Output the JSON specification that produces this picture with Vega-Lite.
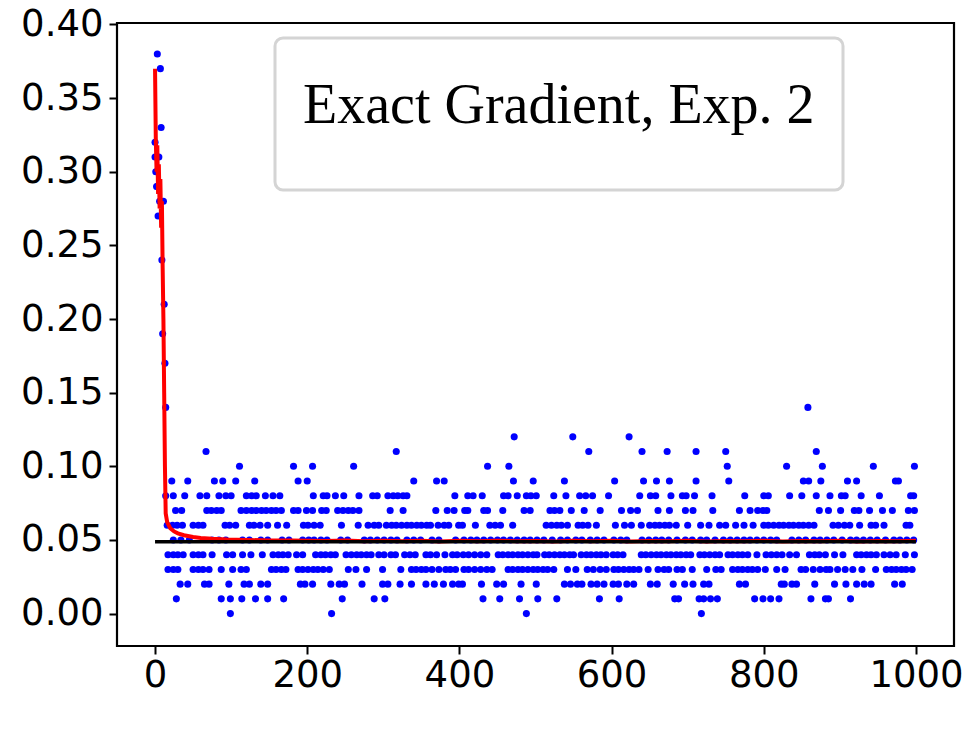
{
 "$schema": "https://vega.github.io/schema/vega-lite/v6.json",
 "width": 837, "height": 623,
 "autosize": {"type": "none"},
 "padding": {"left": 117, "top": 23, "right": 16, "bottom": 88},
 "background": "white",
 "config": {
  "view": {"stroke": "black", "strokeWidth": 2.2},
  "axis": {"grid": false, "domain": false, "ticks": true, "tickColor": "black", "tickWidth": 2, "tickSize": 8, "labelFont": "DejaVu Sans", "labelFontSize": 37, "labelColor": "black", "title": null}
 },
 "datasets": {
  "points": [
   {"x":0,"y":0.32},{"x":0,"y":0.31},{"x":1,"y":0.30},{"x":2,"y":0.29},{"x":3,"y":0.38},{"x":3,"y":0.29},{"x":4,"y":0.27},{"x":5,"y":0.31},{"x":6,"y":0.28},{"x":7,"y":0.37},{"x":8,"y":0.33},{"x":9,"y":0.24},{"x":10,"y":0.19},{"x":11,"y":0.28},{"x":12,"y":0.21},{"x":13,"y":0.17},{"x":14,"y":0.14},
   {"x":67,"y":0.11},
   {"x":111,"y":0.10},{"x":182,"y":0.10},
   {"x":22,"y":0.09},{"x":43,"y":0.09},{"x":78,"y":0.09},{"x":89,"y":0.09},{"x":106,"y":0.09},{"x":131,"y":0.09},{"x":188,"y":0.09},{"x":200,"y":0.09},
   {"x":14,"y":0.08},{"x":24,"y":0.08},{"x":39,"y":0.08},{"x":59,"y":0.08},{"x":68,"y":0.08},{"x":84,"y":0.08},{"x":93,"y":0.08},{"x":100,"y":0.08},{"x":120,"y":0.08},{"x":127,"y":0.08},{"x":133,"y":0.08},{"x":145,"y":0.08},{"x":155,"y":0.08},{"x":164,"y":0.08},
   {"x":27,"y":0.07},{"x":35,"y":0.07},{"x":68,"y":0.07},{"x":74,"y":0.07},{"x":81,"y":0.07},{"x":87,"y":0.07},{"x":113,"y":0.07},{"x":120,"y":0.07},{"x":127,"y":0.07},{"x":133,"y":0.07},{"x":140,"y":0.07},{"x":146,"y":0.07},{"x":153,"y":0.07},{"x":159,"y":0.07},{"x":166,"y":0.07},{"x":182,"y":0.07},{"x":188,"y":0.07},{"x":199,"y":0.07},
   {"x":16,"y":0.06},{"x":23,"y":0.06},{"x":29,"y":0.06},{"x":36,"y":0.06},{"x":50,"y":0.06},{"x":57,"y":0.06},{"x":63,"y":0.06},{"x":92,"y":0.06},{"x":98,"y":0.06},{"x":106,"y":0.06},{"x":124,"y":0.06},{"x":130,"y":0.06},{"x":138,"y":0.06},{"x":148,"y":0.06},{"x":161,"y":0.06},{"x":173,"y":0.06},{"x":195,"y":0.06},{"x":201,"y":0.06},
   {"x":24,"y":0.05},{"x":34,"y":0.05},{"x":45,"y":0.05},{"x":75,"y":0.05},{"x":84,"y":0.05},{"x":93,"y":0.05},{"x":115,"y":0.05},{"x":124,"y":0.05},{"x":139,"y":0.05},{"x":148,"y":0.05},{"x":167,"y":0.05},{"x":176,"y":0.05},{"x":194,"y":0.05},{"x":202,"y":0.05},
   {"x":17,"y":0.04},{"x":24,"y":0.04},{"x":30,"y":0.04},{"x":37,"y":0.04},{"x":50,"y":0.04},{"x":57,"y":0.04},{"x":63,"y":0.04},{"x":75,"y":0.04},{"x":94,"y":0.04},{"x":102,"y":0.04},{"x":115,"y":0.04},{"x":126,"y":0.04},{"x":141,"y":0.04},{"x":155,"y":0.04},{"x":162,"y":0.04},{"x":168,"y":0.04},{"x":175,"y":0.04},{"x":186,"y":0.04},{"x":194,"y":0.04},
   {"x":17,"y":0.03},{"x":24,"y":0.03},{"x":30,"y":0.03},{"x":50,"y":0.03},{"x":57,"y":0.03},{"x":63,"y":0.03},{"x":71,"y":0.03},{"x":87,"y":0.03},{"x":102,"y":0.03},{"x":113,"y":0.03},{"x":120,"y":0.03},{"x":153,"y":0.03},{"x":159,"y":0.03},{"x":166,"y":0.03},{"x":172,"y":0.03},{"x":188,"y":0.03},{"x":194,"y":0.03},{"x":201,"y":0.03},
   {"x":33,"y":0.02},{"x":43,"y":0.02},{"x":65,"y":0.02},{"x":71,"y":0.02},{"x":97,"y":0.02},{"x":117,"y":0.02},{"x":124,"y":0.02},{"x":139,"y":0.02},{"x":148,"y":0.02},{"x":191,"y":0.02},{"x":197,"y":0.02},
   {"x":28,"y":0.01},{"x":87,"y":0.01},{"x":99,"y":0.01},{"x":114,"y":0.01},{"x":132,"y":0.01},{"x":148,"y":0.01},{"x":169,"y":0.01},
   {"x":99,"y":0.0},
   {"x":317,"y":0.11},
   {"x":207,"y":0.10},{"x":261,"y":0.10},
   {"x":340,"y":0.09},{"x":370,"y":0.09},{"x":380,"y":0.09},
   {"x":208,"y":0.08},{"x":221,"y":0.08},{"x":226,"y":0.08},{"x":237,"y":0.08},{"x":248,"y":0.08},{"x":268,"y":0.08},{"x":286,"y":0.08},{"x":292,"y":0.08},{"x":306,"y":0.08},{"x":313,"y":0.08},{"x":319,"y":0.08},{"x":326,"y":0.08},{"x":331,"y":0.08},{"x":394,"y":0.08},
   {"x":207,"y":0.07},{"x":219,"y":0.07},{"x":225,"y":0.07},{"x":240,"y":0.07},{"x":247,"y":0.07},{"x":254,"y":0.07},{"x":260,"y":0.07},{"x":268,"y":0.07},{"x":309,"y":0.07},{"x":326,"y":0.07},{"x":369,"y":0.07},{"x":384,"y":0.07},{"x":393,"y":0.07},
   {"x":209,"y":0.06},{"x":217,"y":0.06},{"x":245,"y":0.06},{"x":267,"y":0.06},{"x":280,"y":0.06},{"x":288,"y":0.06},{"x":294,"y":0.06},{"x":304,"y":0.06},{"x":311,"y":0.06},{"x":317,"y":0.06},{"x":324,"y":0.06},{"x":331,"y":0.06},{"x":337,"y":0.06},{"x":344,"y":0.06},{"x":350,"y":0.06},{"x":357,"y":0.06},{"x":362,"y":0.06},{"x":372,"y":0.06},{"x":380,"y":0.06},{"x":386,"y":0.06},{"x":399,"y":0.06},
   {"x":209,"y":0.05},{"x":218,"y":0.05},{"x":226,"y":0.05},{"x":244,"y":0.05},{"x":253,"y":0.05},{"x":275,"y":0.05},{"x":283,"y":0.05},{"x":292,"y":0.05},{"x":301,"y":0.05},{"x":310,"y":0.05},{"x":318,"y":0.05},{"x":331,"y":0.05},{"x":340,"y":0.05},{"x":349,"y":0.05},{"x":364,"y":0.05},{"x":373,"y":0.05},{"x":395,"y":0.05},
   {"x":211,"y":0.04},{"x":218,"y":0.04},{"x":224,"y":0.04},{"x":231,"y":0.04},{"x":237,"y":0.04},{"x":251,"y":0.04},{"x":258,"y":0.04},{"x":265,"y":0.04},{"x":271,"y":0.04},{"x":278,"y":0.04},{"x":284,"y":0.04},{"x":294,"y":0.04},{"x":301,"y":0.04},{"x":310,"y":0.04},{"x":316,"y":0.04},{"x":328,"y":0.04},{"x":335,"y":0.04},{"x":342,"y":0.04},{"x":356,"y":0.04},{"x":362,"y":0.04},{"x":370,"y":0.04},{"x":381,"y":0.04},{"x":391,"y":0.04},{"x":397,"y":0.04},
   {"x":208,"y":0.03},{"x":214,"y":0.03},{"x":221,"y":0.03},{"x":229,"y":0.03},{"x":254,"y":0.03},{"x":264,"y":0.03},{"x":278,"y":0.03},{"x":299,"y":0.03},{"x":323,"y":0.03},{"x":337,"y":0.03},{"x":343,"y":0.03},{"x":350,"y":0.03},{"x":356,"y":0.03},{"x":364,"y":0.03},{"x":373,"y":0.03},{"x":382,"y":0.03},{"x":388,"y":0.03},{"x":395,"y":0.03},
   {"x":207,"y":0.02},{"x":231,"y":0.02},{"x":242,"y":0.02},{"x":249,"y":0.02},{"x":272,"y":0.02},{"x":299,"y":0.02},{"x":306,"y":0.02},{"x":322,"y":0.02},{"x":337,"y":0.02},{"x":356,"y":0.02},{"x":367,"y":0.02},{"x":379,"y":0.02},{"x":391,"y":0.02},{"x":399,"y":0.02},
   {"x":246,"y":0.01},{"x":288,"y":0.01},{"x":302,"y":0.01},
   {"x":232,"y":0.0},
   {"x":472,"y":0.12},{"x":549,"y":0.12},
   {"x":570,"y":0.11},
   {"x":437,"y":0.10},{"x":465,"y":0.10},
   {"x":471,"y":0.09},{"x":497,"y":0.09},{"x":538,"y":0.09},
   {"x":411,"y":0.08},{"x":418,"y":0.08},{"x":430,"y":0.08},{"x":458,"y":0.08},{"x":464,"y":0.08},{"x":476,"y":0.08},{"x":488,"y":0.08},{"x":494,"y":0.08},{"x":501,"y":0.08},{"x":524,"y":0.08},{"x":540,"y":0.08},{"x":558,"y":0.08},{"x":566,"y":0.08},{"x":575,"y":0.08},{"x":596,"y":0.08},
   {"x":407,"y":0.07},{"x":411,"y":0.07},{"x":432,"y":0.07},{"x":437,"y":0.07},{"x":457,"y":0.07},{"x":485,"y":0.07},{"x":493,"y":0.07},{"x":519,"y":0.07},{"x":525,"y":0.07},{"x":532,"y":0.07},{"x":547,"y":0.07},{"x":564,"y":0.07},{"x":585,"y":0.07},
   {"x":404,"y":0.06},{"x":421,"y":0.06},{"x":440,"y":0.06},{"x":447,"y":0.06},{"x":454,"y":0.06},{"x":470,"y":0.06},{"x":514,"y":0.06},{"x":521,"y":0.06},{"x":528,"y":0.06},{"x":534,"y":0.06},{"x":542,"y":0.06},{"x":556,"y":0.06},{"x":562,"y":0.06},{"x":569,"y":0.06},{"x":580,"y":0.06},
   {"x":406,"y":0.05},{"x":415,"y":0.05},{"x":423,"y":0.05},{"x":432,"y":0.05},{"x":441,"y":0.05},{"x":450,"y":0.05},{"x":458,"y":0.05},{"x":467,"y":0.05},{"x":476,"y":0.05},{"x":485,"y":0.05},{"x":493,"y":0.05},{"x":502,"y":0.05},{"x":511,"y":0.05},{"x":522,"y":0.05},{"x":533,"y":0.05},{"x":542,"y":0.05},{"x":553,"y":0.05},{"x":561,"y":0.05},{"x":572,"y":0.05},{"x":581,"y":0.05},{"x":590,"y":0.05},
   {"x":405,"y":0.04},{"x":412,"y":0.04},{"x":420,"y":0.04},{"x":428,"y":0.04},{"x":436,"y":0.04},{"x":451,"y":0.04},{"x":457,"y":0.04},{"x":464,"y":0.04},{"x":470,"y":0.04},{"x":477,"y":0.04},{"x":483,"y":0.04},{"x":490,"y":0.04},{"x":497,"y":0.04},{"x":502,"y":0.04},{"x":512,"y":0.04},{"x":518,"y":0.04},{"x":525,"y":0.04},{"x":532,"y":0.04},{"x":538,"y":0.04},{"x":545,"y":0.04},{"x":550,"y":0.04},{"x":560,"y":0.04},{"x":567,"y":0.04},{"x":573,"y":0.04},{"x":580,"y":0.04},{"x":586,"y":0.04},{"x":593,"y":0.04},
   {"x":406,"y":0.03},{"x":412,"y":0.03},{"x":420,"y":0.03},{"x":428,"y":0.03},{"x":436,"y":0.03},{"x":443,"y":0.03},{"x":464,"y":0.03},{"x":470,"y":0.03},{"x":477,"y":0.03},{"x":483,"y":0.03},{"x":490,"y":0.03},{"x":497,"y":0.03},{"x":503,"y":0.03},{"x":510,"y":0.03},{"x":516,"y":0.03},{"x":524,"y":0.03},{"x":542,"y":0.03},{"x":553,"y":0.03},{"x":568,"y":0.03},{"x":576,"y":0.03},{"x":585,"y":0.03},{"x":593,"y":0.03},
   {"x":404,"y":0.02},{"x":429,"y":0.02},{"x":449,"y":0.02},{"x":458,"y":0.02},{"x":481,"y":0.02},{"x":501,"y":0.02},{"x":538,"y":0.02},{"x":546,"y":0.02},{"x":555,"y":0.02},{"x":561,"y":0.02},{"x":573,"y":0.02},{"x":581,"y":0.02},{"x":590,"y":0.02},
   {"x":431,"y":0.01},{"x":453,"y":0.01},{"x":479,"y":0.01},{"x":503,"y":0.01},{"x":528,"y":0.01},{"x":584,"y":0.01},
   {"x":488,"y":0.0},
   {"x":623,"y":0.12},
   {"x":640,"y":0.11},{"x":673,"y":0.11},{"x":711,"y":0.11},{"x":750,"y":0.11},
   {"x":752,"y":0.10},
   {"x":604,"y":0.09},{"x":642,"y":0.09},{"x":659,"y":0.09},{"x":676,"y":0.09},{"x":711,"y":0.09},{"x":754,"y":0.09},
   {"x":637,"y":0.08},{"x":651,"y":0.08},{"x":658,"y":0.08},{"x":678,"y":0.08},{"x":693,"y":0.08},{"x":698,"y":0.08},{"x":709,"y":0.08},{"x":732,"y":0.08},{"x":775,"y":0.08},
   {"x":613,"y":0.07},{"x":625,"y":0.07},{"x":634,"y":0.07},{"x":661,"y":0.07},{"x":676,"y":0.07},{"x":697,"y":0.07},{"x":707,"y":0.07},{"x":733,"y":0.07},{"x":768,"y":0.07},{"x":782,"y":0.07},{"x":792,"y":0.07},
   {"x":605,"y":0.06},{"x":617,"y":0.06},{"x":626,"y":0.06},{"x":639,"y":0.06},{"x":650,"y":0.06},{"x":657,"y":0.06},{"x":663,"y":0.06},{"x":670,"y":0.06},{"x":676,"y":0.06},{"x":685,"y":0.06},{"x":700,"y":0.06},{"x":717,"y":0.06},{"x":728,"y":0.06},{"x":742,"y":0.06},{"x":750,"y":0.06},{"x":763,"y":0.06},{"x":774,"y":0.06},{"x":786,"y":0.06},
   {"x":603,"y":0.05},{"x":612,"y":0.05},{"x":620,"y":0.05},{"x":640,"y":0.05},{"x":649,"y":0.05},{"x":658,"y":0.05},{"x":666,"y":0.05},{"x":675,"y":0.05},{"x":686,"y":0.05},{"x":697,"y":0.05},{"x":706,"y":0.05},{"x":717,"y":0.05},{"x":725,"y":0.05},{"x":736,"y":0.05},{"x":747,"y":0.05},{"x":756,"y":0.05},{"x":765,"y":0.05},{"x":774,"y":0.05},{"x":782,"y":0.05},{"x":791,"y":0.05},
   {"x":602,"y":0.04},{"x":608,"y":0.04},{"x":615,"y":0.04},{"x":639,"y":0.04},{"x":645,"y":0.04},{"x":652,"y":0.04},{"x":659,"y":0.04},{"x":665,"y":0.04},{"x":672,"y":0.04},{"x":678,"y":0.04},{"x":685,"y":0.04},{"x":691,"y":0.04},{"x":698,"y":0.04},{"x":704,"y":0.04},{"x":716,"y":0.04},{"x":722,"y":0.04},{"x":729,"y":0.04},{"x":736,"y":0.04},{"x":742,"y":0.04},{"x":753,"y":0.04},{"x":759,"y":0.04},{"x":766,"y":0.04},{"x":772,"y":0.04},{"x":779,"y":0.04},{"x":791,"y":0.04},
   {"x":603,"y":0.03},{"x":609,"y":0.03},{"x":616,"y":0.03},{"x":623,"y":0.03},{"x":629,"y":0.03},{"x":636,"y":0.03},{"x":648,"y":0.03},{"x":661,"y":0.03},{"x":669,"y":0.03},{"x":675,"y":0.03},{"x":686,"y":0.03},{"x":693,"y":0.03},{"x":706,"y":0.03},{"x":725,"y":0.03},{"x":737,"y":0.03},{"x":744,"y":0.03},{"x":759,"y":0.03},{"x":766,"y":0.03},{"x":772,"y":0.03},{"x":779,"y":0.03},{"x":785,"y":0.03},{"x":792,"y":0.03},
   {"x":602,"y":0.02},{"x":609,"y":0.02},{"x":620,"y":0.02},{"x":629,"y":0.02},{"x":651,"y":0.02},{"x":660,"y":0.02},{"x":681,"y":0.02},{"x":696,"y":0.02},{"x":707,"y":0.02},{"x":721,"y":0.02},{"x":728,"y":0.02},{"x":768,"y":0.02},{"x":776,"y":0.02},
   {"x":610,"y":0.01},{"x":683,"y":0.01},{"x":688,"y":0.01},{"x":715,"y":0.01},{"x":721,"y":0.01},{"x":730,"y":0.01},{"x":739,"y":0.01},{"x":788,"y":0.01},
   {"x":718,"y":0.0},
   {"x":858,"y":0.14},
   {"x":869,"y":0.11},
   {"x":830,"y":0.10},{"x":877,"y":0.10},{"x":944,"y":0.10},{"x":998,"y":0.10},
   {"x":852,"y":0.09},{"x":859,"y":0.09},{"x":875,"y":0.09},{"x":910,"y":0.09},{"x":922,"y":0.09},{"x":973,"y":0.09},{"x":977,"y":0.09},
   {"x":800,"y":0.08},{"x":806,"y":0.08},{"x":834,"y":0.08},{"x":850,"y":0.08},{"x":869,"y":0.08},{"x":887,"y":0.08},{"x":902,"y":0.08},{"x":907,"y":0.08},{"x":928,"y":0.08},{"x":952,"y":0.08},{"x":993,"y":0.08},{"x":997,"y":0.08},
   {"x":799,"y":0.07},{"x":804,"y":0.07},{"x":873,"y":0.07},{"x":885,"y":0.07},{"x":901,"y":0.07},{"x":919,"y":0.07},{"x":925,"y":0.07},{"x":939,"y":0.07},{"x":956,"y":0.07},{"x":969,"y":0.07},{"x":990,"y":0.07},{"x":998,"y":0.07},
   {"x":800,"y":0.06},{"x":806,"y":0.06},{"x":813,"y":0.06},{"x":820,"y":0.06},{"x":826,"y":0.06},{"x":833,"y":0.06},{"x":839,"y":0.06},{"x":846,"y":0.06},{"x":852,"y":0.06},{"x":859,"y":0.06},{"x":866,"y":0.06},{"x":891,"y":0.06},{"x":898,"y":0.06},{"x":906,"y":0.06},{"x":913,"y":0.06},{"x":926,"y":0.06},{"x":941,"y":0.06},{"x":947,"y":0.06},{"x":958,"y":0.06},{"x":987,"y":0.06},{"x":992,"y":0.06},
   {"x":800,"y":0.05},{"x":809,"y":0.05},{"x":817,"y":0.05},{"x":837,"y":0.05},{"x":846,"y":0.05},{"x":855,"y":0.05},{"x":866,"y":0.05},{"x":874,"y":0.05},{"x":883,"y":0.05},{"x":892,"y":0.05},{"x":903,"y":0.05},{"x":914,"y":0.05},{"x":922,"y":0.05},{"x":931,"y":0.05},{"x":940,"y":0.05},{"x":949,"y":0.05},{"x":960,"y":0.05},{"x":971,"y":0.05},{"x":979,"y":0.05},{"x":988,"y":0.05},{"x":997,"y":0.05},
   {"x":803,"y":0.04},{"x":810,"y":0.04},{"x":817,"y":0.04},{"x":824,"y":0.04},{"x":834,"y":0.04},{"x":843,"y":0.04},{"x":860,"y":0.04},{"x":867,"y":0.04},{"x":873,"y":0.04},{"x":881,"y":0.04},{"x":893,"y":0.04},{"x":904,"y":0.04},{"x":922,"y":0.04},{"x":928,"y":0.04},{"x":935,"y":0.04},{"x":941,"y":0.04},{"x":948,"y":0.04},{"x":958,"y":0.04},{"x":966,"y":0.04},{"x":974,"y":0.04},{"x":986,"y":0.04},{"x":998,"y":0.04},
   {"x":802,"y":0.03},{"x":817,"y":0.03},{"x":828,"y":0.03},{"x":849,"y":0.03},{"x":855,"y":0.03},{"x":865,"y":0.03},{"x":874,"y":0.03},{"x":882,"y":0.03},{"x":887,"y":0.03},{"x":897,"y":0.03},{"x":907,"y":0.03},{"x":917,"y":0.03},{"x":929,"y":0.03},{"x":947,"y":0.03},{"x":961,"y":0.03},{"x":968,"y":0.03},{"x":974,"y":0.03},{"x":981,"y":0.03},{"x":987,"y":0.03},{"x":995,"y":0.03},
   {"x":823,"y":0.02},{"x":827,"y":0.02},{"x":837,"y":0.02},{"x":843,"y":0.02},{"x":867,"y":0.02},{"x":893,"y":0.02},{"x":908,"y":0.02},{"x":922,"y":0.02},{"x":932,"y":0.02},{"x":941,"y":0.02},{"x":972,"y":0.02},{"x":982,"y":0.02},
   {"x":799,"y":0.01},{"x":809,"y":0.01},{"x":820,"y":0.01},{"x":862,"y":0.01},{"x":881,"y":0.01},{"x":885,"y":0.01},{"x":914,"y":0.01}
  ],
  "fit": [
   {"x":0,"y":0.370},{"x":1,"y":0.322},{"x":2,"y":0.300},{"x":3,"y":0.318},{"x":4,"y":0.285},{"x":5,"y":0.305},{"x":6,"y":0.275},{"x":7,"y":0.295},{"x":8,"y":0.262},{"x":9,"y":0.280},{"x":10,"y":0.235},{"x":11,"y":0.200},{"x":12,"y":0.150},{"x":13,"y":0.100},{"x":14,"y":0.068},{"x":16,"y":0.062},{"x":20,"y":0.058},{"x":25,"y":0.0558},{"x":30,"y":0.0545},{"x":38,"y":0.0532},{"x":50,"y":0.0520},{"x":60,"y":0.0514},{"x":75,"y":0.0508},{"x":95,"y":0.0503},{"x":120,"y":0.0500},{"x":150,"y":0.0497},{"x":180,"y":0.0496},{"x":200,"y":0.0494},
   {"x":225,"y":0.0493},{"x":250,"y":0.0496},{"x":275,"y":0.0491},{"x":300,"y":0.0495},{"x":325,"y":0.0492},{"x":350,"y":0.0494},{"x":375,"y":0.0490},{"x":400,"y":0.0494},{"x":425,"y":0.0491},{"x":450,"y":0.0495},{"x":475,"y":0.0491},{"x":500,"y":0.0493},{"x":525,"y":0.0490},{"x":550,"y":0.0494},{"x":575,"y":0.0491},{"x":600,"y":0.0494},{"x":625,"y":0.0490},{"x":650,"y":0.0493},{"x":675,"y":0.0491},{"x":700,"y":0.0494},{"x":725,"y":0.0490},{"x":750,"y":0.0493},{"x":775,"y":0.0491},{"x":800,"y":0.0494},{"x":825,"y":0.0490},{"x":850,"y":0.0493},{"x":875,"y":0.0491},{"x":900,"y":0.0494},{"x":925,"y":0.0490},{"x":950,"y":0.0493},{"x":975,"y":0.0491},{"x":1000,"y":0.0494}
  ],
  "mean": [
   {"x":0,"y":0.0487,"label":"Exact Gradient, Exp. 2"},{"x":1000,"y":0.0487,"label":"Exact Gradient, Exp. 2"}
  ]
 },
 "encoding": {
  "x": {"field": "x", "type": "quantitative", "scale": {"domain": [-50, 1050], "nice": false, "zero": false}, "axis": {"values": [0, 200, 400, 600, 800, 1000], "format": "d", "labelPadding": 3, "title": null}},
  "y": {"field": "y", "type": "quantitative", "scale": {"domain": [-0.022, 0.401], "nice": false, "zero": false}, "axis": {"values": [0, 0.05, 0.1, 0.15, 0.2, 0.25, 0.3, 0.35, 0.4], "format": ".2f", "labelPadding": 6, "title": null}}
 },
 "layer": [
  {"data": {"name": "points"}, "mark": {"type": "circle", "color": "#0000ff", "size": 50, "opacity": 1}},
  {"data": {"name": "fit"}, "mark": {"type": "line", "color": "#ff0000", "strokeWidth": 4}},
  {"data": {"name": "mean"}, "mark": {"type": "line", "strokeWidth": 3.5},
   "encoding": {
    "color": {"field": "label", "type": "nominal", "scale": {"range": ["#000000"]},
     "legend": {"title": "Exact Gradient, Exp. 2", "orient": "none", "legendX": 158, "legendY": 15, "titleFont": "Liberation Serif", "titleFontSize": 56, "titleFontWeight": "normal", "titleColor": "black", "titleLimit": 1000, "titleBaseline": "line-top", "titleLineHeight": 82, "titlePadding": 34, "padding": 28, "fillColor": "white", "strokeColor": "#d4d4d4", "cornerRadius": 8, "labelOpacity": 0, "labelFontSize": 6, "symbolOpacity": 0, "symbolSize": 1, "symbolStrokeWidth": 0,
      "encode": {"legend": {"update": {"strokeWidth": {"value": 3}}}}}}
   }}
 ]
}
